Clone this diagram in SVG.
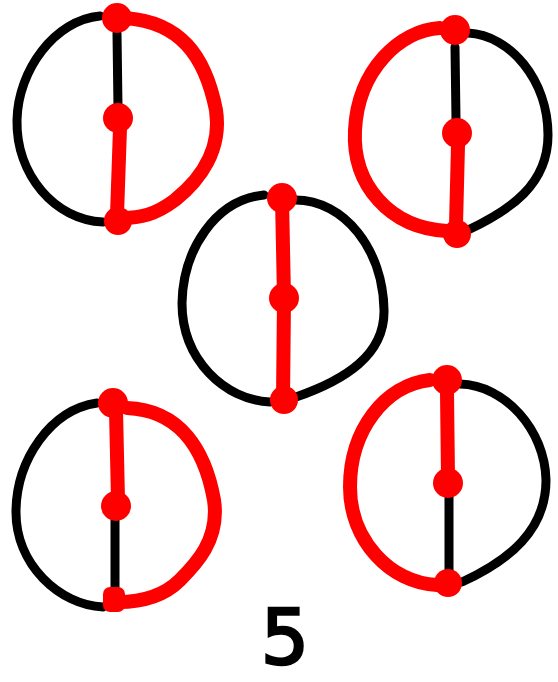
<svg xmlns="http://www.w3.org/2000/svg" width="558" height="682" viewBox="0 0 558 682">
<style>
.b{fill:none;stroke:#000;stroke-width:9;stroke-linecap:round;stroke-linejoin:round}
.r{fill:none;stroke:#f00;stroke-width:14;stroke-linecap:round;stroke-linejoin:round}
.d{fill:#f00}
.t{font-family:"DejaVu Sans",sans-serif;font-size:76px;fill:#000;stroke:#000;stroke-width:2.5}
</style>
<rect width="558" height="682" fill="#fff"/>
<g id="g1">
<path class="b" d="M100,16 C55,20 18,70 17,120 C16,175 55,220 103,222"/>
<path class="b" d="M117,33 L118,108"/>
<path class="r" d="M125,18 C180,22 205,55 216,110 C222,150 200,180 175,200 C155,215 140,218 122,218"/>
<path class="r" d="M120,128 L117,215"/>
<circle class="d" cx="117" cy="18" r="15"/><circle class="d" cx="118" cy="118" r="15"/><circle class="d" cx="118" cy="221" r="14"/>
</g>
<g id="g2">
<path class="b" d="M468,33 C510,35 548,80 548,135 C548,185 510,210 468,230"/>
<path class="b" d="M455,47 L456,120"/>
<path class="r" d="M440,28 C400,30 358,70 355,130 C352,185 390,228 447,231"/>
<path class="r" d="M458,145 L456,225"/>
<circle class="d" cx="455" cy="30" r="15"/><circle class="d" cx="457" cy="133" r="15"/><circle class="d" cx="457" cy="234" r="14"/>
</g>
<g id="g3">
<path class="b" d="M264,195 C215,200 183,250 182,303 C182,360 225,400 270,402"/>
<path class="b" d="M295,200 C345,200 383,250 384,310 C385,355 345,380 296,397"/>
<path class="r" d="M282,198 L284,298 L283,400"/>
<circle class="d" cx="282" cy="198" r="15"/><circle class="d" cx="284" cy="298" r="15"/><circle class="d" cx="284" cy="400" r="14"/>
</g>
<g id="g4">
<path class="b" d="M97,403 C50,410 17,460 16,510 C15,565 60,605 103,607"/>
<path class="b" d="M115,520 L115,600"/>
<path class="r" d="M127,408 C180,410 205,450 214,500 C220,540 195,565 180,580 C165,595 145,602 118,602"/>
<path class="r" d="M116,410 L118,500"/>
<circle class="d" cx="113" cy="403" r="15"/><circle class="d" cx="116" cy="506" r="15"/><rect class="d" x="103" y="587" width="22" height="25" rx="7"/>
</g>
<g id="g5">
<path class="b" d="M460,384 C505,385 545,430 546,480 C546,530 510,560 462,582"/>
<path class="b" d="M449,495 L449,580"/>
<path class="r" d="M430,380 C385,385 350,430 350,487 C350,540 390,583 437,585"/>
<path class="r" d="M447,392 L448,478"/>
<circle class="d" cx="447" cy="380" r="15"/><circle class="d" cx="448" cy="483" r="15"/><circle class="d" cx="448" cy="583" r="14"/>
</g>
<text class="t" x="285" y="664" text-anchor="middle">5</text>
</svg>
